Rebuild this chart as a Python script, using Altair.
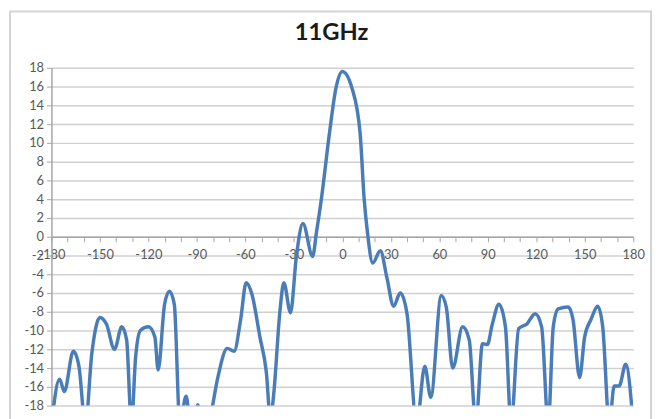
import altair as alt
import pandas as pd

angles = [-180, -175, -172, -166.5, -163, -159, -155, -150, -146, -141, -136.5, -133.5,
          -130.5, -128, -125, -120, -116, -114, -110, -107, -104, -100.5, -96.7, -94.5,
          -92, -89.5, -86, -81.5, -77.3, -71.2, -67, -63, -59.5, -56, -51, -47, -44.5,
          -42.5, -38.6, -36.2, -32.1, -28.4, -24.4, -18.4, -16, -13, -8, -4, 0, 6, 11,
          13.5, 15.5, 18.8, 23.5, 27.6, 31.7, 35.8, 40, 46, 51, 54.7, 61.2, 64.3, 68.3,
          74.4, 78.5, 82.6, 86.7, 89.7, 92.8, 96.9, 100.9, 104.4, 109.1, 114.2, 119.3,
          123.3, 127.4, 130.5, 133.6, 139.7, 142.7, 146.8, 149.9, 153.9, 158, 161.1,
          165.2, 168.2, 171.3, 175.3, 180]
gain_db = [-20, -15.2, -16.5, -12.2, -13.8, -20, -12.4, -8.6, -9.3, -12.0, -9.6, -11,
           -20, -13, -10, -9.6, -10.7, -14.2, -7.2, -5.8, -7.2, -20, -17, -19.5,
           -21, -17.9, -21, -19, -15.2, -11.9, -12.2, -8.9, -4.9, -6.1, -10.7, -14.5, -19.5,
           -16.8, -7.9, -4.9, -8.1, -2, 1.4, -2.1, 0.5, 4, 11, 15.8, 17.6, 15.8, 11,
           4, 0.5, -2.8, -1.5, -4.4, -7.4, -6, -8.2, -20, -13.8, -17.1, -6.3, -7.5, -14,
           -9.6, -11, -20, -11.4, -11.5, -9.3, -7.2, -9.6, -20, -9.8, -9.3, -8.2,
           -9.6, -20, -9.6, -7.7, -7.5, -8.8, -15, -10.7, -8.8, -7.4, -9.6,
           -20, -15.9, -15.9, -13.6, -20]

x_ticks = list(range(-180, 181, 10))
y_ticks = list(range(-18, 19, 2))

df = pd.DataFrame({"angle": angles, "gain": gain_db})

W, H = 589, 342
FONT = "Lato"

frame = alt.Chart(pd.DataFrame({"k": [0]})).mark_rect(
    fillOpacity=0, stroke="#d4d4d4", strokeWidth=2
).encode(
    x=alt.value(-42), x2=alt.value(607), y=alt.value(-57), y2=alt.value(H + 30)
)

line = alt.Chart(df).mark_line(
    color="#4a7cb8", strokeWidth=3.5, interpolate="monotone", clip=True
).encode(
    x=alt.X("angle:Q",
            scale=alt.Scale(domain=[-180, 180], nice=False, zero=False),
            axis=alt.Axis(values=x_ticks, title=None, offset=-H / 2, grid=False,
                          labelExpr="datum.value % 30 == 0 ? toString(datum.value) : ''",
                          tickSize=5, tickColor="#a6a6a6", domainColor="#a6a6a6",
                          domainWidth=1.5, labelPadding=7, labelFont=FONT,
                          labelFontSize=13, labelColor="#595959", labelFlush=False,
                          labelOverlap=False)),
    y=alt.Y("gain:Q",
            scale=alt.Scale(domain=[-18, 18], nice=False, zero=False),
            axis=alt.Axis(values=y_ticks, title=None, grid=True, gridColor="#d0d0d0",
                          gridWidth=1.5, tickSize=5, tickColor="#a6a6a6",
                          labelExpr="toString(datum.value)",
                          domainColor="#a6a6a6", domainWidth=1.5, labelPadding=3,
                          labelFont=FONT, labelFontSize=13, labelColor="#595959",
                          labelOverlap=False)),
)

chart = alt.layer(frame, line).properties(
    width=W, height=H,
    autosize=alt.AutoSizeParams(type="none"),
    padding={"left": 44, "top": 58, "right": 21, "bottom": 11},
    title=alt.TitleParams("11GHz", font=FONT, fontSize=24, fontWeight="bold",
                          color="#1a1a1a", offset=-35, dx=-11, anchor="middle",
                          frame="group"),
).configure_view(stroke=None)

chart.save("out.html", embed_options={"renderer": "svg", "actions": False})
